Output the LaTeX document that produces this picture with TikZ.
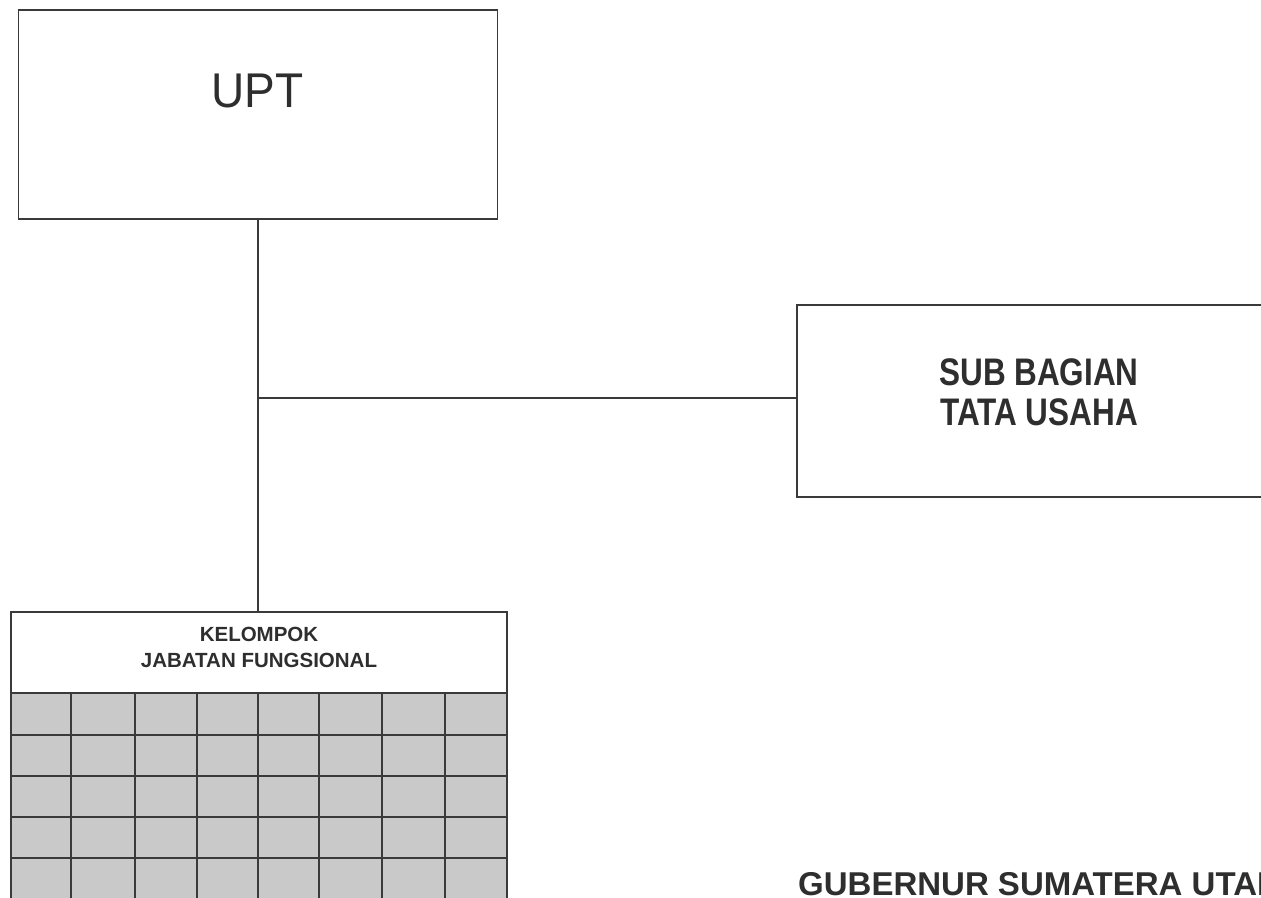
\documentclass[tikz,border=0pt]{standalone}
\usepackage{fontspec}
\setmainfont{Liberation Sans}
\definecolor{ink}{HTML}{3A3A3A}
\definecolor{txt}{HTML}{2E2E2E}
\definecolor{cellfill}{HTML}{C9C9C9}
\begin{document}
\begin{tikzpicture}[x=1pt,y=-1pt,
  box/.style={draw=ink, line width=1.8pt, fill=white, rectangle, inner sep=0pt},
  link/.style={draw=ink, line width=1.8pt},
  lbl/.style={text=txt, align=center, inner sep=0pt}]
\useasboundingbox (0,0) rectangle (1261,897);
\clip (0,0) rectangle (1261,897);
\fill[white] (0,0) rectangle (1261,897);
% UPT
\node[box, minimum width=479pt, minimum height=209pt] (upt) at (258,114.5) {};
\node[lbl, font=\fontsize{46}{50}\selectfont] (upttext) at (257.5,90.5) {\scalebox{1}[1.06]{UPT}};
% Sub bagian (runs off the right edge)
\node[box, minimum width=480pt, minimum height=192pt] (sub) at (1037,401) {};
\node[lbl, font=\bfseries\fontsize{31.5}{32}\selectfont] (subtext) at (1039,398)
  {\scalebox{1}[1.22]{\begin{tabular}{@{}c@{}}SUB BAGIAN\\[0.5pt]TATA USAHA\end{tabular}}};
% Kelompok jabatan fungsional
\node[box, minimum width=496pt, minimum height=81pt] (kjf) at (259,652.5) {};
\node[lbl, font=\bfseries\fontsize{20.5}{26}\selectfont] (kjftext) at (259,647.5) {KELOMPOK\\JABATAN FUNGSIONAL};
% grid below
\fill[cellfill] (11,693) rectangle (507,910);
\foreach \x in {11,71,135,197,258,319,382,445,507}
  \draw[link] (\x,693) -- (\x,910);
\foreach \y in {693,735,776,817,858,899}
  \draw[link] (11,\y) -- (507,\y);
% connectors
\coordinate (j) at (258,398);
\draw[link] (upt.south) -- (upt.south |- kjf.north);
\draw[link] (j) -- (sub.west |- j);
% footer
\node[lbl, font=\bfseries\fontsize{33}{34}\selectfont, anchor=west] (gub) at (798,884) {GUBERNUR SUMATERA UTARA};
\end{tikzpicture}
\end{document}
